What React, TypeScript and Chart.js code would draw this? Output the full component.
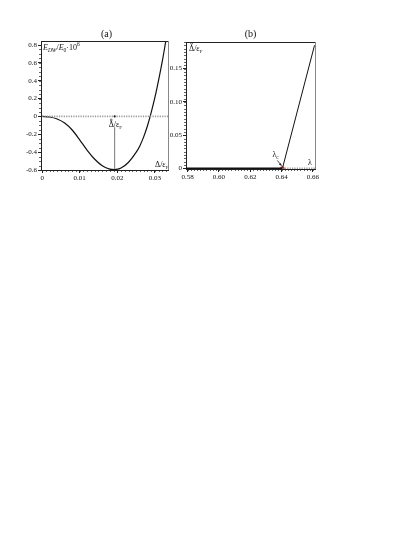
import React, { useEffect, useRef } from "react";
import { Chart, registerables } from "chart.js";
Chart.register(...registerables);

// Panel (a): domain-wall energy vs gap
const deltaA = [0, 0.002, 0.004, 0.006, 0.008, 0.01, 0.012, 0.014, 0.016, 0.018, 0.0193, 0.021, 0.023, 0.025, 0.026, 0.027, 0.028, 0.029, 0.03, 0.031, 0.032, 0.0329];
const energyA = [0, -0.006, -0.028, -0.074, -0.152, -0.262, -0.38, -0.48, -0.552, -0.59, -0.595, -0.578, -0.513, -0.403, -0.33, -0.232, -0.11, 0.04, 0.21, 0.407, 0.622, 0.84];
const xTicksA = [0, 0.01, 0.02, 0.03];
const yTicksA = [-0.6, -0.4, -0.2, 0, 0.2, 0.4, 0.6, 0.8];
const deltaStar = 0.0193;
const energyMin = -0.595;
const markerTop = -0.12;

// Panel (b): equilibrium gap vs lambda
const lambdaB = [0.579, 0.6405, 0.661];
const gapB = [0, 0, 0.185];
const xTicksB = [0.58, 0.6, 0.62, 0.64, 0.66];
const yTicksB = [0, 0.05, 0.1, 0.15];
const lambdaC = 0.6405;

const SERIF = "'Liberation Serif', 'DejaVu Serif', serif";

type Part = { t: string; s?: number; i?: boolean; dy?: number };
function rich(ctx: CanvasRenderingContext2D, x: number, y: number, parts: Part[]) {
  let cx = x;
  for (const p of parts) {
    ctx.font = `${p.i ? "italic " : ""}${p.s ?? 8}px ${SERIF}`;
    ctx.fillText(p.t, cx, y + (p.dy ?? 0));
    cx += ctx.measureText(p.t).width;
  }
}

function deltaLabel(ctx: CanvasRenderingContext2D, x: number, y: number, star: boolean) {
  ctx.fillStyle = "#111";
  ctx.textAlign = "left";
  ctx.textBaseline = "alphabetic";
  ctx.font = `8px ${SERIF}`;
  const w = ctx.measureText("Δ").width;
  if (star) {
    ctx.strokeStyle = "#111";
    ctx.lineWidth = 0.6;
    ctx.beginPath();
    ctx.arc(x + w / 2, y - 7.5, 0.9, 0, Math.PI * 2);
    ctx.stroke();
  }
  rich(ctx, x, y, [{ t: "Δ/ε", s: 8 }, { t: "F", s: 5, dy: 2 }]);
}

function minorTicks(chart: any, xStep: number, yStep: number) {
  const ctx = chart.ctx as CanvasRenderingContext2D;
  const xs = chart.scales.x;
  const ys = chart.scales.y;
  const a = chart.chartArea;
  ctx.save();
  ctx.strokeStyle = "#222";
  ctx.lineWidth = 0.7;
  ctx.beginPath();
  const nx = Math.ceil(xs.min / xStep);
  for (let k = nx; k * xStep <= xs.max + 1e-12; k++) {
    const px = Math.round(xs.getPixelForValue(k * xStep)) + 0.5;
    ctx.moveTo(px, a.bottom);
    ctx.lineTo(px, a.bottom + 2);
  }
  const ny = Math.ceil(ys.min / yStep);
  for (let k = ny; k * yStep <= ys.max + 1e-12; k++) {
    const py = Math.round(ys.getPixelForValue(k * yStep)) + 0.5;
    ctx.moveTo(a.left, py);
    ctx.lineTo(a.left - 2, py);
  }
  ctx.stroke();
  ctx.restore();
}

function frame(chart: any) {
  const ctx = chart.ctx as CanvasRenderingContext2D;
  const a = chart.chartArea;
  ctx.save();
  ctx.strokeStyle = "#222";
  ctx.lineWidth = 1;
  ctx.beginPath();
  ctx.moveTo(a.left, a.top + 0.5);
  ctx.lineTo(a.right + 0.5, a.top + 0.5);
  ctx.stroke();
  ctx.strokeStyle = "#888";
  ctx.beginPath();
  ctx.moveTo(a.right + 0.5, a.top);
  ctx.lineTo(a.right + 0.5, a.bottom);
  ctx.stroke();
  ctx.restore();
}

const tickFont = { family: SERIF, size: 7 };

function axisOpts(min: number, max: number, values: number[], fmt: (v: number) => string, isY: boolean, size: number) {
  return {
    type: "linear" as const,
    min,
    max,
    afterBuildTicks: (s: any) => {
      s.ticks = values.map((v) => ({ value: v }));
    },
    afterFit: (s: any) => {
      if (isY) s.width = size;
      else s.height = size;
    },
    border: { display: true, color: "#222", width: 1 },
    grid: { display: true, drawOnChartArea: false, drawTicks: true, tickLength: 3, color: "#222" },
    ticks: {
      color: "#111",
      font: tickFont,
      padding: 1,
      autoSkip: false,
      maxRotation: 0,
      callback: (v: any) => fmt(Number(v)),
    },
  };
}

function fmtA(v: number) {
  if (Math.abs(v) < 1e-12) return "0";
  return String(Math.round(v * 100) / 100);
}
function fmtYA(v: number) {
  if (Math.abs(v) < 1e-12) return "0";
  return (Math.round(v * 10) / 10).toString();
}

function PanelA() {
  const ref = useRef<HTMLCanvasElement>(null);
  useEffect(() => {
    const annot = {
      id: "annotA",
      afterDraw(chart: any) {
        const ctx = chart.ctx as CanvasRenderingContext2D;
        const xs = chart.scales.x;
        const ys = chart.scales.y;
        const a = chart.chartArea;
        minorTicks(chart, 0.001, 0.05);
        frame(chart);
        ctx.save();
        ctx.fillStyle = "#222";
        ctx.beginPath();
        ctx.arc(xs.getPixelForValue(deltaStar), ys.getPixelForValue(0), 1.1, 0, Math.PI * 2);
        ctx.fill();
        deltaLabel(ctx, xs.getPixelForValue(deltaStar) - 6, ys.getPixelForValue(0) + 11, true);
        deltaLabel(ctx, a.right - 13, a.bottom - 3, false);
        ctx.fillStyle = "#111";
        rich(ctx, a.left + 2, a.top + 9, [
          { t: "E", s: 8, i: true },
          { t: "DW", s: 5.5, i: true, dy: 2 },
          { t: "/", s: 8 },
          { t: "E", s: 8, i: true },
          { t: "0", s: 5.5, dy: 2 },
          { t: "·10", s: 8 },
          { t: "6", s: 5.5, dy: -4 },
        ]);
        ctx.font = `10px ${SERIF}`;
        ctx.textAlign = "center";
        ctx.fillText("(a)", (a.left + a.right) / 2 + 2, a.top - 4);
        ctx.restore();
      },
    };
    const chart = new Chart(ref.current!, {
      type: "scatter",
      data: {
        datasets: [
          {
            data: [
              { x: 0, y: 0 },
              { x: 0.0335, y: 0 },
            ],
            showLine: true,
            borderColor: "#9a9a9a",
            borderWidth: 1.8,
            borderDash: [1.2, 1.2],
            pointRadius: 0,
          },
          {
            data: [
              { x: deltaStar, y: energyMin },
              { x: deltaStar, y: markerTop },
            ],
            showLine: true,
            borderColor: "#555",
            borderWidth: 0.8,
            pointRadius: 0,
          },
          {
            data: deltaA.map((x, i) => ({ x, y: energyA[i] })),
            showLine: true,
            borderColor: "#111",
            borderWidth: 1.2,
            pointRadius: 0,
            cubicInterpolationMode: "monotone",
          },
        ],
      },
      options: {
        responsive: false,
        animation: false,
        layout: { padding: { top: 21, right: 12, left: 0, bottom: 20 } },
        plugins: { legend: { display: false }, tooltip: { enabled: false } },
        scales: {
          x: axisOpts(-0.0003, 0.0335, xTicksA, fmtA, false, 20),
          y: axisOpts(-0.6, 0.845, yTicksA, fmtYA, true, 41),
        },
      },
      plugins: [annot],
    } as any);
    return () => chart.destroy();
  }, []);
  return <canvas ref={ref} width={180} height={190} style={{ position: "absolute", left: 0, top: 20 }} />;
}

function PanelB() {
  const ref = useRef<HTMLCanvasElement>(null);
  useEffect(() => {
    const annot = {
      id: "annotB",
      afterDraw(chart: any) {
        const ctx = chart.ctx as CanvasRenderingContext2D;
        const xs = chart.scales.x;
        const ys = chart.scales.y;
        const a = chart.chartArea;
        minorTicks(chart, 0.002, 0.005);
        frame(chart);
        ctx.save();
        deltaLabel(ctx, a.left + 3, a.top + 9, true);
        ctx.fillStyle = "#111";
        rich(ctx, a.right - 7, a.bottom - 4, [{ t: "λ", s: 8 }]);
        const cx = xs.getPixelForValue(lambdaC);
        const cy = ys.getPixelForValue(0);
        rich(ctx, cx - 10, cy - 11, [{ t: "λ", s: 8 }, { t: "c", s: 5.5, dy: 2 }]);
        ctx.strokeStyle = "#222";
        ctx.lineWidth = 0.8;
        ctx.beginPath();
        ctx.moveTo(cx - 5, cy - 8);
        ctx.lineTo(cx - 1, cy - 3);
        ctx.stroke();
        ctx.beginPath();
        ctx.moveTo(cx - 0.5, cy - 2.5);
        ctx.lineTo(cx - 3.5, cy - 4);
        ctx.lineTo(cx - 1.8, cy - 5.5);
        ctx.closePath();
        ctx.fillStyle = "#222";
        ctx.fill();
        ctx.font = `10px ${SERIF}`;
        ctx.textAlign = "center";
        ctx.fillStyle = "#111";
        ctx.fillText("(b)", (a.left + a.right) / 2, a.top - 5);
        ctx.restore();
      },
    };
    const chart = new Chart(ref.current!, {
      type: "scatter",
      data: {
        datasets: [
          {
            data: [
              { x: lambdaC, y: 0 },
              { x: 0.6615, y: 0 },
            ],
            showLine: true,
            borderColor: "#9a9a9a",
            borderWidth: 1.8,
            borderDash: [1.2, 1.2],
            pointRadius: 0,
          },
          {
            data: lambdaB.slice(0, 2).map((x, i) => ({ x, y: gapB[i] })),
            showLine: true,
            borderColor: "#111",
            borderWidth: 2,
            pointRadius: 0,
          },
          {
            data: lambdaB.slice(1).map((x, i) => ({ x, y: gapB[i + 1] })),
            showLine: true,
            borderColor: "#111",
            borderWidth: 1,
            pointRadius: 0,
          },
          {
            data: [{ x: lambdaC, y: 0 }],
            pointRadius: 2.3,
            pointBackgroundColor: "#e01010",
            pointBorderColor: "#e01010",
            pointBorderWidth: 0,
          },
        ],
      },
      options: {
        responsive: false,
        animation: false,
        layout: { padding: { top: 22, right: 15, left: 0, bottom: 20 } },
        plugins: { legend: { display: false }, tooltip: { enabled: false } },
        scales: {
          x: axisOpts(0.579, 0.6613, xTicksB, (v) => v.toFixed(2), false, 21),
          y: axisOpts(-0.0008, 0.19, yTicksB, (v) => (Math.abs(v) < 1e-12 ? "0" : v.toFixed(2)), true, 36),
        },
      },
      plugins: [annot],
    } as any);
    return () => chart.destroy();
  }, []);
  return <canvas ref={ref} width={180} height={190} style={{ position: "absolute", left: 150, top: 20 }} />;
}

export default function App() {
  return (
    <div style={{ position: "fixed", left: 0, top: 0, width: 415, height: 537, background: "#fff" }}>
      <PanelA />
      <PanelB />
    </div>
  );
}
